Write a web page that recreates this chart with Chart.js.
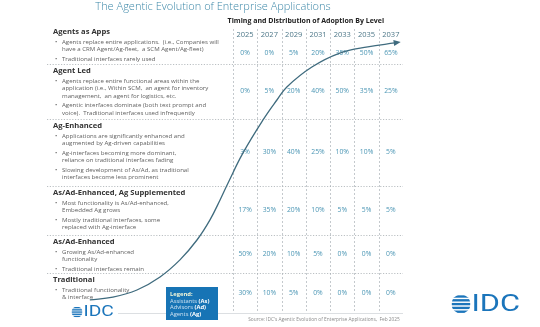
<!DOCTYPE html>
<html>
<head>
<meta charset="utf-8">
<script src="https://cdn.jsdelivr.net/npm/chart.js@4.4.1/dist/chart.umd.min.js"></script>
<style>
  html, body { margin: 0; padding: 0; background: #fff; }
  #wrap { position: relative; width: 540px; height: 327px; }
</style>
</head>
<body>
<div id="wrap"><canvas id="c" width="540" height="327"></canvas></div>
<script>
// table data
const years = ['2025', '2027', '2029', '2031', '2033', '2035', '2037'];
const levels = ['Agents as Apps', 'Agent Led', 'Ag-Enhanced', 'As/Ad-Enhanced, Ag Supplemented', 'As/Ad-Enhanced', 'Traditional'];
// share of adoption (%), one row per level, one column per year
const shareApps = [0, 0, 5, 20, 35, 50, 65];
const shareLed = [0, 5, 20, 40, 50, 35, 25];
const shareAgEnh = [3, 30, 40, 25, 10, 10, 5];
const shareAsAdAg = [17, 35, 20, 10, 5, 5, 5];
const shareAsAd = [50, 20, 10, 5, 0, 0, 0];
const shareTrad = [30, 10, 5, 0, 0, 0, 0];
const shares = [shareApps, shareLed, shareAgEnh, shareAsAdAg, shareAsAd, shareTrad];

// the adoption curve (x in year columns, y in % of table height from top)
const curveX = [-6.39, -5.44, -4.45, -3.50, -2.68, -1.98, -1.45, -1.03, -0.70, -0.09, 0.74, 1.31, 1.72, 2.75, 3.90, 5.05, 6.16];
const curveY = [95.4, 94.4, 91.9, 87.3, 81.3, 74.3, 67.3, 60.2, 54.2, 43.7, 32.0, 25.0, 20.4, 13.4, 8.5, 6.3, 4.9];

// row bands of the table (% of table height), header band first
const rowEdges = [4.9, 12.3, 31.7, 55.3, 72.5, 85.9, 100];

// left-hand descriptions: one list of bullets per level, each bullet a list of lines
const notes = [
  [['Agents replace entire applications.  (i.e., Companies will', 'have a CRM Agent/Ag-fleet,  a SCM Agent/Ag-fleet)'], ['Traditional interfaces rarely used']],
  [['Agents replace entire functional areas within the', 'application (i.e., Within SCM,  an agent for inventory', 'management,  an agent for logistics, etc.'], ['Agentic interfaces dominate (both text prompt and', 'voice).  Traditional interfaces used infrequently']],
  [['Applications are significantly enhanced and', 'augmented by Ag-driven capabilities'], ['Ag-interfaces becoming more dominant,', 'reliance on traditional interfaces fading'], ['Slowing development of As/Ad, as traditional', 'interfaces become less prominent']],
  [['Most functionality is As/Ad-enhanced,', 'Embedded Ag grows'], ['Mostly traditional interfaces, some', 'replaced with Ag-interface']],
  [['Growing As/Ad-enhanced', 'functionality'], ['Traditional interfaces remain']],
  [['Traditional functionality', '& interface']]
];

const FONT = '"Open Sans", "DejaVu Sans", sans-serif';
const cells = [];
shares.forEach((row, r) => row.forEach((v, c) => {
  cells.push({ x: c, y: (rowEdges[r] + rowEdges[r + 1]) / 2, v: v });
}));

function hline(ctx, x1, x2, y) { ctx.beginPath(); ctx.moveTo(x1, y); ctx.lineTo(x2, y); ctx.stroke(); }
function vline(ctx, x, y1, y2) { ctx.beginPath(); ctx.moveTo(x, y1); ctx.lineTo(x, y2); ctx.stroke(); }

function idcLogo(ctx, cx, cy, r, size) {
  ctx.save();
  ctx.beginPath(); ctx.arc(cx, cy, r, 0, Math.PI * 2); ctx.clip();
  ctx.fillStyle = '#1b75bb';
  const n = 5, h = (2 * r) / n;
  for (let i = 0; i < n; i++) ctx.fillRect(cx - r, cy - r + i * h + h * 0.22, 2 * r, h * 0.62);
  ctx.restore();
  ctx.save();
  ctx.fillStyle = '#1b75bb';
  ctx.font = '400 ' + size + 'px Roboto, sans-serif';
  ctx.textAlign = 'left'; ctx.textBaseline = 'middle';
  ctx.translate(cx + r + 1, cy + size * 0.04);
  ctx.scale(1.28, 1);
  ctx.fillText('IDC', 0, 0);
  ctx.restore();
}

const tablePlugin = {
  id: 'table',
  beforeDatasetsDraw(chart) {
    const { ctx, scales: { x, y } } = chart;
    const right = x.getPixelForValue(6.5);
    ctx.save();

    // title + subtitle
    ctx.fillStyle = '#3d88a8';
    ctx.font = '300 11px ' + FONT;
    ctx.textAlign = 'center'; ctx.textBaseline = 'middle';
    ctx.fillText('The Agentic Evolution of Enterprise Applications', 213, 7);
    ctx.fillStyle = '#222';
    ctx.font = 'bold 7px ' + FONT;
    ctx.fillText('Timing and Distribution of Adoption By Level', x.getPixelForValue(2.5), 21);

    // column separators
    ctx.strokeStyle = '#b5bcc0'; ctx.lineWidth = 0.8; ctx.setLineDash([2, 2]);
    years.forEach((_, i) => vline(ctx, Math.round(x.getPixelForValue(i - 0.5)) + 0.5, y.getPixelForValue(0), y.getPixelForValue(100)));

    // row separators
    ctx.strokeStyle = '#a9b0b4'; ctx.setLineDash([1.2, 1.6]);
    rowEdges.slice(1, 6).forEach(v => hline(ctx, 47, right, Math.round(y.getPixelForValue(v)) + 0.5));
    ctx.setLineDash([]);
    ctx.strokeStyle = '#d3d7da';
    hline(ctx, 118, right, Math.round(y.getPixelForValue(100)) + 0.5);

    // year header
    ctx.fillStyle = '#4d7788';
    ctx.font = '7.5px ' + FONT;
    years.forEach((t, i) => ctx.fillText(t, x.getPixelForValue(i), y.getPixelForValue(rowEdges[0] / 2) - 1));

    // percentage cells
    ctx.fillStyle = '#4d97b5';
    ctx.font = '6.8px ' + FONT;
    chart.getDatasetMeta(1).data.forEach((el, i) => ctx.fillText(cells[i].v + '%', el.x, el.y));

    // left descriptions
    ctx.textAlign = 'left';
    levels.forEach((name, r) => {
      let py = r === 0 ? y.getPixelForValue(0) + 3 : y.getPixelForValue(rowEdges[r]) + 7;
      ctx.fillStyle = '#333';
      ctx.font = 'bold 7.6px ' + FONT;
      ctx.fillText(name, 53, py);
      py += 10;
      ctx.font = '6.1px ' + FONT;
      ctx.fillStyle = '#5f5f5f';
      notes[r].forEach((lines, b) => {
        if (b > 0) py += 2;
        ctx.fillText('\u2022', 55, py);
        lines.forEach(t => { ctx.fillText(t, 62, py); py += 7.5; });
      });
    });

    // legend box
    ctx.fillStyle = '#1774b5';
    ctx.fillRect(166, 287, 52, 33);
    ctx.font = 'bold 5.8px ' + FONT;
    ctx.fillStyle = '#f3f6d8';
    ctx.fillText('Legend:', 170, 294);
    [['Assistants ', '(As)'], ['Advisors ', '(Ad)'], ['Agents ', '(Ag)']].forEach((p, i) => {
      const py = 301 + i * 6.8;
      ctx.font = '5.8px ' + FONT; ctx.fillStyle = '#cfe3f2';
      ctx.fillText(p[0], 170, py);
      const w = ctx.measureText(p[0]).width;
      ctx.font = 'bold 5.8px ' + FONT; ctx.fillStyle = '#ffffff';
      ctx.fillText(p[1], 170 + w, py);
    });

    // source + logos
    ctx.font = '4.8px ' + FONT; ctx.fillStyle = '#8a8a8a'; ctx.textAlign = 'center';
    ctx.fillText("Source: IDC's Agentic Evolution of Enterprise Applications,  Feb 2025", 324, 320);
    idcLogo(ctx, 77, 312, 5.5, 15);
    idcLogo(ctx, 461, 304, 9.5, 24);
    ctx.restore();
  },
  afterDatasetsDraw(chart) {
    // arrow head at the end of the curve
    const pts = chart.getDatasetMeta(0).data;
    const p = pts[pts.length - 1], q = pts[pts.length - 2];
    const ang = Math.atan2(p.y - q.y, p.x - q.x);
    const ctx = chart.ctx;
    ctx.save();
    ctx.translate(p.x + 3 * Math.cos(ang), p.y + 3 * Math.sin(ang));
    ctx.rotate(ang);
    ctx.fillStyle = '#3f6b7e';
    ctx.beginPath(); ctx.moveTo(3, 0); ctx.lineTo(-4, -3); ctx.lineTo(-4, 3); ctx.closePath(); ctx.fill();
    ctx.restore();
  }
};

new Chart(document.getElementById('c'), {
  type: 'line',
  data: {
    datasets: [
      {
        data: curveX.map((v, i) => ({ x: v, y: curveY[i] })),
        borderColor: '#3f6b7e', borderWidth: 1.3, pointRadius: 0,
        tension: 0.4, fill: false, clip: false
      },
      {
        data: cells.map(c => ({ x: c.x, y: c.y })),
        showLine: false, pointRadius: 0, borderWidth: 0
      }
    ]
  },
  options: {
    responsive: false, animation: false,
    // x runs from the left edge of the text column to the last year column
    layout: { padding: { left: 75, right: 137, top: 29, bottom: 14 } },
    scales: {
      x: { type: 'linear', min: -7, max: 6.5, display: false },
      y: { type: 'linear', min: 0, max: 100, reverse: true, display: false }
    },
    plugins: { legend: { display: false }, tooltip: { enabled: false }, title: { display: false } }
  },
  plugins: [tablePlugin]
});
</script>
</body>
</html>
